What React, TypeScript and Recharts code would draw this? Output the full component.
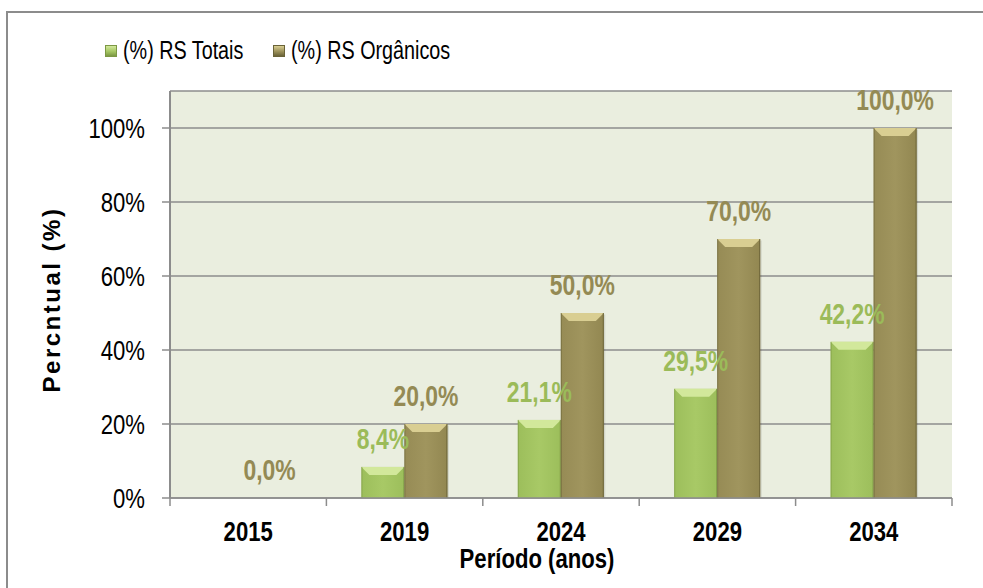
import React from 'react';
import { BarChart, Bar, XAxis, YAxis, CartesianGrid, LabelList } from 'recharts';

// no narrow font installed: Liberation Sans squeezed horizontally stands in for a condensed face
const FONT = "'Liberation Sans', Arial, sans-serif";
const SQUEEZE = 0.79;

// values
const years = ['2015', '2019', '2024', '2029', '2034'];
const rsTotais = [null, 8.4, 21.1, 29.5, 42.2];
const rsOrganicos = [0, 20, 50, 70, 100];
const yTicks = [0, 20, 40, 60, 80, 100];

const data = years.map((ano, i) => ({ ano, totais: rsTotais[i], organicos: rsOrganicos[i] }));

const GREEN = { body: '#A5C663', light: '#D2E89B', dark: '#7C9844', text: '#9BBB59' };
const BROWN = { body: '#9C915A', light: '#D9CE92', dark: '#6A6338', text: '#948A54' };

const fmt = (v: any) => (v == null ? '' : `${Number(v).toFixed(1).replace('.', ',')}%`);

const NarrowText = ({ x, y, anchor = 'middle', size, bold = false, fill = '#000', children }: any) => (
  <text
    transform={`translate(${x},${y}) scale(${SQUEEZE},1)`}
    textAnchor={anchor}
    fontFamily={FONT}
    fontWeight={bold ? 'bold' : 'normal'}
    fontSize={size}
    fill={fill}
  >
    {children}
  </text>
);

const BevelBar = (col: typeof GREEN, id: string) => (props: any) => {
  const { x, y, width, height } = props;
  if (height == null || height <= 0) return null;
  const b = Math.min(8, height / 2);
  return (
    <g>
      <rect x={x + 1.5} y={y + 1.5} width={width} height={height - 1.5} fill="#000" opacity={0.1} />
      <rect x={x} y={y} width={width} height={height} fill={`url(#${id})`} />
      <polygon points={`${x},${y} ${x + width},${y} ${x + width - b},${y + b} ${x + b},${y + b}`} fill={col.light} />
      <line x1={x + 0.5} x2={x + 0.5} y1={y} y2={y + height} stroke={col.dark} strokeWidth={1} opacity={0.6} />
      <line x1={x + width - 0.5} x2={x + width - 0.5} y1={y} y2={y + height} stroke={col.dark} strokeWidth={1} opacity={0.9} />
    </g>
  );
};

const makeLabel = (color: string) => (props: any) => {
  const { x, y, width, value } = props;
  if (value == null) return null;
  return (
    <NarrowText x={x + width / 2} y={y - 18} size={29} bold fill={color}>
      {fmt(value)}
    </NarrowText>
  );
};

const XTick = (props: any) => {
  const { x, y, payload, index } = props;
  const half = 782 / years.length / 2;
  return (
    <g>
      <line x1={x - half} x2={x - half} y1={y} y2={y + 8} stroke="#8C8C8C" strokeWidth={1.5} />
      {index === years.length - 1 && (
        <line x1={x + half} x2={x + half} y1={y} y2={y + 8} stroke="#8C8C8C" strokeWidth={1.5} />
      )}
      <NarrowText x={x} y={y + 43} size={28} bold>
        {payload.value}
      </NarrowText>
    </g>
  );
};

const YTick = (props: any) => {
  const { x, y, payload } = props;
  return (
    <NarrowText x={x} y={y + 10} anchor="end" size={28}>
      {`${payload.value}%`}
    </NarrowText>
  );
};

const LegendItem = ({ col, label, left }: any) => (
  <div style={{ position: 'absolute', left, top: 36, display: 'flex', alignItems: 'center', whiteSpace: 'nowrap' }}>
    <span
      style={{
        display: 'inline-block',
        width: 12,
        height: 12,
        marginRight: 6,
        background: `linear-gradient(180deg, ${col.light} 0%, ${col.body} 55%, ${col.dark} 100%)`,
        border: `1px solid ${col.dark}`,
        boxSizing: 'border-box',
      }}
    />
    <span
      style={{
        display: 'inline-block',
        fontFamily: FONT,
        fontSize: 25,
        color: '#000',
        transform: `scaleX(${SQUEEZE})`,
        transformOrigin: 'left center',
      }}
    >
      {label}
    </span>
  </div>
);

export default function App() {
  return (
    <div style={{ position: 'absolute', left: 0, top: 0, width: 983, height: 588, overflow: 'hidden', background: '#fff' }}>
      <div
        style={{
          position: 'absolute', left: 6, top: 11, width: 1000, height: 600,
          borderTop: '2px solid #8C8C8C', borderLeft: '2px solid #8C8C8C',
        }}
      />
      <LegendItem col={GREEN} label="(%) RS Totais" left={105} />
      <LegendItem col={BROWN} label="(%) RS Orgânicos" left={273} />
      <div style={{ position: 'absolute', left: 0, top: 0 }}>
        <BarChart
          width={983}
          height={588}
          data={data}
          margin={{ top: 91, right: 31, left: 30, bottom: 10 }}
          barGap={0}
          barSize={43}
        >
          <defs>
            <linearGradient id="gGreen" x1="0" y1="0" x2="1" y2="0">
              <stop offset="0%" stopColor="#9CBE5B" />
              <stop offset="50%" stopColor="#A8C966" />
              <stop offset="100%" stopColor="#9CBE5B" />
            </linearGradient>
            <linearGradient id="gBrown" x1="0" y1="0" x2="1" y2="0">
              <stop offset="0%" stopColor="#968B55" />
              <stop offset="50%" stopColor="#A0955E" />
              <stop offset="100%" stopColor="#928751" />
            </linearGradient>
          </defs>
          <CartesianGrid vertical={false} stroke="#8C8C8C" strokeWidth={1.5} fill="#EAEEDF" fillOpacity={1} />
          <XAxis
            dataKey="ano"
            height={80}
            tickLine={false}
            tickSize={0}
            tickMargin={0}
            axisLine={{ stroke: '#8C8C8C', strokeWidth: 1.5 }}
            tick={<XTick />}
            interval={0}
            label={{
              content: ({ viewBox }: any) => (
                <NarrowText x={viewBox.x + viewBox.width / 2 - 24} y={viewBox.y + 70} size={28} bold>
                  Período (anos)
                </NarrowText>
              ),
            }}
          />
          <YAxis
            width={140}
            domain={[0, 110]}
            ticks={yTicks}
            tickSize={8}
            tickMargin={17}
            tickLine={{ stroke: '#8C8C8C', strokeWidth: 1.5 }}
            axisLine={{ stroke: '#8C8C8C', strokeWidth: 2 }}
            tick={<YTick />}
            label={{
              content: ({ viewBox }: any) => {
                const cx = viewBox.x + 21;
                const cy = viewBox.y + viewBox.height / 2 + 5;
                return (
                  <text
                    x={cx}
                    y={cy}
                    transform={`rotate(-90 ${cx} ${cy})`}
                    textAnchor="middle"
                    dominantBaseline="central"
                    fontFamily={FONT}
                    fontWeight="bold"
                    fontSize={24}
                    letterSpacing={2.5}
                    fill="#000"
                  >
                    Percntual (%)
                  </text>
                );
              },
            }}
          />
          <Bar dataKey="totais" name="(%) RS Totais" fill={GREEN.body} shape={BevelBar(GREEN, 'gGreen')} isAnimationActive={false}>
            <LabelList dataKey="totais" content={makeLabel(GREEN.text)} />
          </Bar>
          <Bar dataKey="organicos" name="(%) RS Orgânicos" fill={BROWN.body} shape={BevelBar(BROWN, 'gBrown')} isAnimationActive={false}>
            <LabelList dataKey="organicos" content={makeLabel(BROWN.text)} />
          </Bar>
        </BarChart>
      </div>
    </div>
  );
}
